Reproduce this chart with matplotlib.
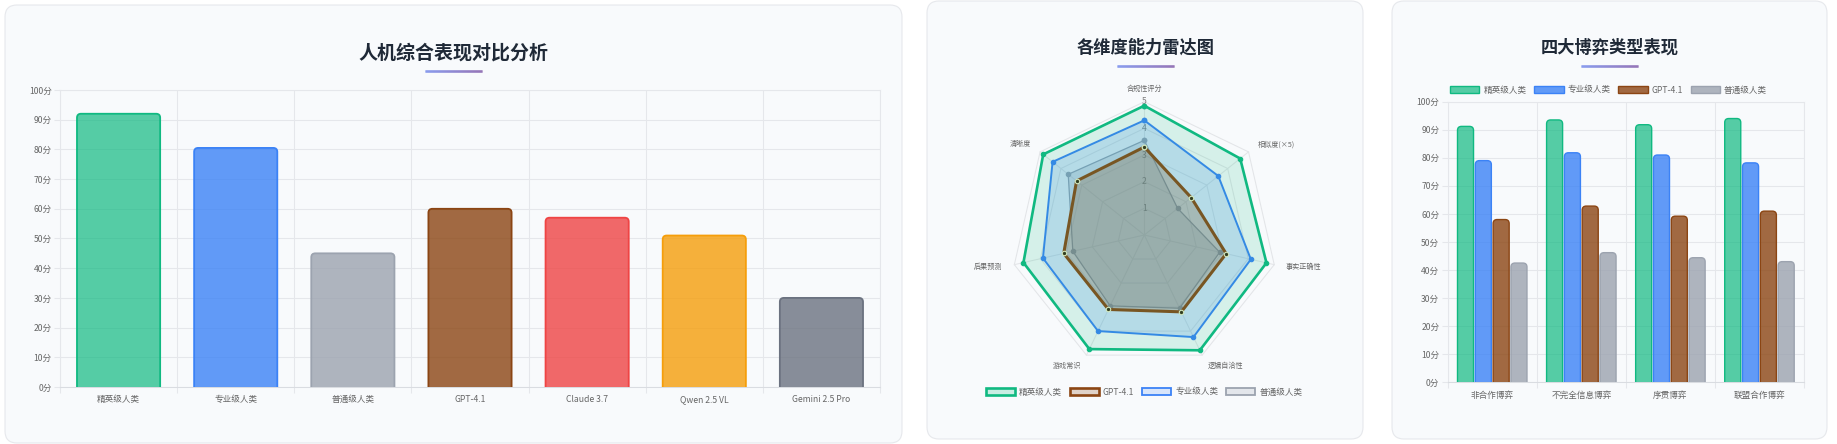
import numpy as np
import matplotlib
matplotlib.use('Agg')
import matplotlib.pyplot as plt
from matplotlib.patches import FancyBboxPatch, Patch
from matplotlib.collections import LineCollection
from matplotlib.transforms import Affine2D
from matplotlib.colors import to_rgba, to_rgb

plt.rcParams['font.family'] = ['Noto Sans CJK SC', 'DejaVu Sans']

# ---------------- data ----------------
overall_labels = ['精英级人类', '专业级人类', '普通级人类', 'GPT-4.1', 'Claude 3.7', 'Qwen 2.5 VL', 'Gemini 2.5 Pro']
overall_scores = [92, 80.5, 45, 60, 57, 51, 30]
overall_colors = ['#10b981', '#3b82f6', '#9ca3af', '#8b4513', '#ef4444', '#f59e0b', '#6b7280']
overall_alphas = [0.7, 0.8, 0.8, 0.8, 0.8, 0.8, 0.8]
score_ticks = list(range(0, 101, 10))

radar_dims = ['合规性评分', '相似度(×5)', '事实正确性', '逻辑自洽性', '游戏常识', '后果预测', '清晰度']
radar_elite = [4.85, 4.6, 4.7, 4.8, 4.75, 4.65, 4.85]
radar_gpt = [3.3, 2.25, 3.15, 3.2, 3.1, 3.1, 3.25]
radar_pro = [4.3, 3.55, 4.1, 4.25, 4.0, 3.9, 4.4]
radar_avg = [3.55, 1.6, 2.9, 3.05, 2.95, 2.75, 3.65]
radar_ticks = [1, 2, 3, 4, 5]

game_types = ['非合作博弈', '不完全信息博弈', '序贯博弈', '联盟合作博弈']
game_elite = [91.2, 93.5, 91.8, 94.0]
game_pro = [79.0, 81.8, 81.0, 78.2]
game_gpt = [58.0, 62.8, 59.2, 61.0]
game_avg = [42.5, 46.2, 44.4, 43.0]

GREEN, BLUE, BROWN, GREY = '#10b981', '#3b82f6', '#8b4513', '#9ca3af'
GRID = '#e5e7eb'
TICKC = '#666666'

# ---------------- figure ----------------
W, H = 1837, 444
fig = plt.figure(figsize=(W / 100, H / 100), dpi=100)
fig.patch.set_facecolor('white')
PX = Affine2D().scale(1 / W, 1 / H) + fig.transFigure


def card(x0, y0, x1, y1):
    p = FancyBboxPatch((x0, H - y1), x1 - x0, y1 - y0,
                       boxstyle='round,pad=0,rounding_size=12', transform=PX,
                       facecolor='#f8fafc', edgecolor='#e6e8ec', linewidth=0.8, zorder=0)
    fig.add_artist(p)


def title(cx, cy, text, size, uy, half=28.5):
    fig.text(cx / W, 1 - cy / H, text, ha='center', va='center', fontsize=size,
             fontweight='bold', color='#1f2937')
    n = 60
    xs = np.linspace(cx - half, cx + half, n + 1)
    c0, c1 = np.array(to_rgb('#667eea')), np.array(to_rgb('#764ba2'))
    segs = [[(xs[i], H - uy), (xs[i + 1], H - uy)] for i in range(n)]
    cols = [tuple(c0 + (c1 - c0) * (i / (n - 1))) for i in range(n)]
    lc = LineCollection(segs, colors=cols, linewidths=1.8, transform=PX, capstyle='butt')
    fig.add_artist(lc)


def axes_px(x0, y0, x1, y1, **kw):
    return fig.add_axes([x0 / W, (H - y1) / H, (x1 - x0) / W, (y1 - y0) / H], **kw)


def round_bars(ax, bars, box_px, r_px, facecolors, edgecolors, lw):
    x0, x1 = ax.get_xlim()
    y0, y1 = ax.get_ylim()
    dxp = (x1 - x0) / box_px[0]
    dyp = (y1 - y0) / box_px[1]
    for rect, fc, ec in zip(bars.patches, facecolors, edgecolors):
        x, y, w, h = rect.get_x(), rect.get_y(), rect.get_width(), rect.get_height()
        rect.set_visible(False)
        ext = 3 * r_px * dyp
        p = FancyBboxPatch((x, y - ext), w, h + ext,
                           boxstyle=f'round,pad=0,rounding_size={r_px * dxp}',
                           mutation_aspect=dyp / dxp, facecolor=fc, edgecolor=ec,
                           linewidth=lw, zorder=3)
        ax.add_patch(p)


def style_bar_axes(ax, ncat):
    ax.set_facecolor('none')
    ax.set_xlim(-0.5, ncat - 0.5)
    ax.set_ylim(0, 100)
    ax.set_yticks(score_ticks)
    ax.set_yticklabels([f'{v}分' for v in score_ticks])
    ax.set_xticks(np.arange(-0.5, ncat, 1.0), minor=True)
    ax.grid(True, axis='y', which='major', color=GRID, lw=0.75, zorder=0)
    ax.grid(True, axis='x', which='minor', color=GRID, lw=0.75, zorder=0)
    ax.tick_params(axis='y', which='major', length=4, width=0.75, color=GRID,
                   labelsize=6.2, labelcolor=TICKC, pad=2)
    ax.tick_params(axis='x', which='major', length=0, labelsize=6.2, labelcolor=TICKC, pad=6)
    ax.tick_params(axis='x', which='minor', length=4, width=0.75, color=GRID)
    for s in ax.spines.values():
        s.set_color(GRID)
        s.set_linewidth(0.75)
    ax.spines['bottom'].set_color('#d9dce1')
    ax.set_axisbelow(True)


# ---------------- cards & titles ----------------
card(5, 5, 902, 443)
card(927, 1, 1363, 439)
card(1392, 1, 1827, 439)

title(453, 53, '人机综合表现对比分析', 13.7, 71)
title(1145.5, 48, '各维度能力雷达图', 12.4, 66.5)
title(1609.5, 48, '四大博弈类型表现', 12.4, 66.5)

# ---------------- panel 1: overall bars ----------------
ax1 = axes_px(60, 90, 880, 387)
style_bar_axes(ax1, len(overall_labels))
xpos = np.arange(len(overall_labels))
b1 = ax1.bar(xpos, overall_scores, width=0.71)
ax1.set_xticks(xpos)
ax1.set_xticklabels(overall_labels)
round_bars(ax1, b1, (820, 297), 4,
           [to_rgba(c, a) for c, a in zip(overall_colors, overall_alphas)], overall_colors, 1.3)

# ---------------- panel 2: radar ----------------
cx, cy, R = 1144.3, 235, 133.3
ax2 = axes_px(cx - R, cy - R, cx + R, cy + R, projection='polar')
ax2.set_theta_zero_location('N')
ax2.set_theta_direction(-1)
ax2.set_ylim(0, 5)
ax2.set_axis_off()
n = len(radar_dims)
theta = np.arange(n) * 2 * np.pi / n
tc = np.append(theta, theta[0])


def closed(v):
    return np.append(v, v[0])


for lvl in radar_ticks:
    ax2.plot(tc, [lvl] * (n + 1), color='#e3e5e8', lw=0.75, zorder=1, clip_on=False)
for t in theta:
    ax2.plot([t, t], [0, radar_ticks[-1]], color='#e3e5e8', lw=0.75, zorder=1, clip_on=False)
for lvl in radar_ticks:
    ax2.text(0, lvl, str(lvl), ha='center', va='center', fontsize=6.2, color='#808080', zorder=1.5)

series = [
    # (values, color, fill alpha, lw, marker face, marker edge, zorder)
    (radar_avg, GREY, 0.25, 0.9, GREY, GREY, 2),
    (radar_pro, BLUE, 0.2, 1.4, BLUE, BLUE, 3),
    (radar_gpt, BROWN, 0.25, 2.2, '#3a2a12', '#f4f0c8', 4),
    (radar_elite, GREEN, 0.15, 1.9, GREEN, GREEN, 5),
]
for vals, col, a, lw, mfc, mec, z in series:
    ax2.fill(tc, closed(vals), color=to_rgba(col, a), lw=0, zorder=z, clip_on=False)
    ax2.plot(tc, closed(vals), color=col, lw=lw, zorder=z + 0.1, marker='o',
             ms=3.2, mfc=mfc, mec=mec, mew=0.8, clip_on=False)

for k, (t, lab) in enumerate(zip(theta, radar_dims)):
    s = np.sin(t)
    if abs(s) < 1e-6:
        ha, r = 'center', 5.5
    else:
        ha, r = ('left' if s > 0 else 'right'), 5.45
    ax2.text(t, r, lab, ha=ha, va='center', fontsize=5.1, color=TICKC)

radar_handles = [
    Patch(facecolor=to_rgba(GREEN, 0.2), edgecolor=GREEN, lw=1.9, label='精英级人类'),
    Patch(facecolor=to_rgba(BROWN, 0.22), edgecolor=BROWN, lw=1.9, label='GPT-4.1'),
    Patch(facecolor=to_rgba(BLUE, 0.17), edgecolor=BLUE, lw=1.3, label='专业级人类'),
    Patch(facecolor=to_rgba(GREY, 0.22), edgecolor=GREY, lw=1.3, label='普通级人类'),
]
fig.legend(handles=radar_handles, loc='center', bbox_to_anchor=(1144 / W, 1 - 392 / H),
           ncol=4, frameon=False, fontsize=6.2, handlelength=3.4, handleheight=1.0,
           handletextpad=0.45, columnspacing=0.9, labelcolor=TICKC)

# ---------------- panel 3: grouped bars ----------------
ax3 = axes_px(1447.7, 101.7, 1804, 382.3)
style_bar_axes(ax3, len(game_types))
gx = np.arange(len(game_types))
groups = [('精英级人类', game_elite, GREEN, 0.7), ('专业级人类', game_pro, BLUE, 0.8),
          ('GPT-4.1', game_gpt, BROWN, 0.8), ('普通级人类', game_avg, GREY, 0.8)]
slot = 0.8 / len(groups)
for i, (lab, vals, col, a) in enumerate(groups):
    b = ax3.bar(gx + (i - 1.5) * slot, vals, width=slot * 0.9)
    round_bars(ax3, b, (1804 - 1447.7, 382.3 - 101.7), 4,
               [to_rgba(col, a)] * len(vals), [col] * len(vals), 1.0)
ax3.set_xticks(gx)
ax3.set_xticklabels(game_types)
game_handles = [Patch(facecolor=to_rgba(col, a), edgecolor=col, lw=1.0, label=lab)
                for lab, vals, col, a in groups]
fig.legend(handles=game_handles, loc='center', bbox_to_anchor=(1608.5 / W, 1 - 90 / H),
           ncol=4, frameon=False, fontsize=6.2, handlelength=3.4, handleheight=1.0,
           handletextpad=0.45, columnspacing=0.9, labelcolor=TICKC)

fig.savefig('out.png', dpi=100, facecolor='white')
